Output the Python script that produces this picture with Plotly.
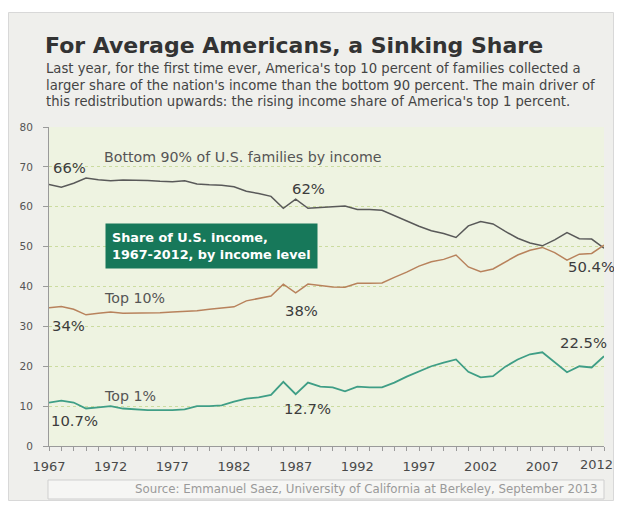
import plotly.graph_objects as go

years = list(range(1967, 2013))

bottom90 = [65.6, 64.9, 65.9, 67.2, 66.8, 66.5, 66.7, 66.7, 66.6, 66.4,
            66.3, 66.5, 65.7, 65.5, 65.4, 65.0, 63.9, 63.3, 62.6, 59.6,
            61.9, 59.6, 59.8, 60.1, 60.2, 59.3, 59.3, 59.1, 57.7, 56.4,
            55.1, 54.0, 53.3, 52.3, 55.2, 56.3, 55.7, 53.8, 52.1, 50.9,
            50.2, 51.7, 53.5, 52.0, 51.9, 49.6]

top10 = [34.7, 35.0, 34.3, 32.9, 33.3, 33.6, 33.3, 33.3, 33.3, 33.4,
         33.6, 33.7, 33.9, 34.3, 34.6, 34.9, 36.4, 37.0, 37.6, 40.6,
         38.4, 40.6, 40.3, 39.9, 39.8, 40.8, 40.8, 40.9, 42.3, 43.6,
         45.1, 46.2, 46.8, 47.9, 44.9, 43.7, 44.4, 46.2, 47.9, 49.1,
         49.8, 48.5, 46.6, 48.1, 48.3, 50.4]

top1 = [10.9, 11.4, 10.9, 9.4, 9.7, 10.0, 9.4, 9.2, 9.0, 9.0,
        9.0, 9.2, 10.0, 10.0, 10.2, 11.1, 11.9, 12.2, 12.8, 16.1,
        13.0, 15.9, 14.9, 14.7, 13.7, 14.9, 14.7, 14.7, 15.9, 17.4,
        18.8, 20.0, 20.9, 21.7, 18.6, 17.2, 17.5, 19.9, 21.7, 23.0,
        23.5, 21.1, 18.5, 20.0, 19.7, 22.5]

major_years = [1967, 1972, 1977, 1982, 1987, 1992, 1997, 2002, 2007, 2012]
# the last label sits at the figure edge, so it is drawn as an annotation below
last_year = major_years[-1]
x_ticktext = [str(y) if (y in major_years and y != last_year) else "" for y in years]
y_ticks = [0, 10, 20, 30, 40, 50, 60, 70, 80]

title = "For Average Americans, a Sinking Share"
subtitle = [
    "Last year, for the first time ever, America's top 10 percent of families collected a",
    "larger share of the nation's income than the bottom 90 percent. The main driver of",
    "this redistribution upwards: the rising income share of America's top 1 percent.",
]
source = "Source: Emmanuel Saez, University of California at Berkeley, September 2013"

FONT = "DejaVu Sans"
# the page body has an 8px margin; size the figure so the page does not overflow
OFF = 8
W, H = 622 - 2 * OFF, 509 - 2 * OFF
PLOT_L, PLOT_R, PLOT_T, PLOT_B = 49, 604, 127, 446   # page pixel coords of plot area
L = PLOT_L - OFF
T = PLOT_T - OFF
R = W - (PLOT_R - OFF)
B = H - (PLOT_B - OFF)
PW, PH = PLOT_R - PLOT_L, PLOT_B - PLOT_T


def px(xp):
    return (xp - PLOT_L) / PW


def py(yp):
    return (PLOT_B - yp) / PH


fig = go.Figure()
fig.add_trace(go.Scatter(x=years, y=bottom90, mode="lines",
                         line=dict(color="#595959", width=1.5), hoverinfo="skip"))
fig.add_trace(go.Scatter(x=years, y=top10, mode="lines",
                         line=dict(color="#b8825c", width=1.5), hoverinfo="skip"))
fig.add_trace(go.Scatter(x=years, y=top1, mode="lines",
                         line=dict(color="#3f9e86", width=1.8), hoverinfo="skip"))

shapes = [
    dict(type="rect", xref="paper", yref="paper", x0=px(8.5), x1=px(613.5), y0=py(500.5), y1=py(12.5),
         fillcolor="#efefec", line=dict(color="#d8d8d8", width=1), layer="below"),
    dict(type="rect", xref="paper", yref="paper", x0=0, x1=1, y0=0, y1=1,
         fillcolor="#eef3e1", line=dict(width=0), layer="below"),
    dict(type="rect", xref="paper", yref="paper", x0=px(48), x1=px(604), y0=py(499), y1=py(480),
         fillcolor="#f6f6f4", line=dict(color="#cfcfcf", width=1), layer="below"),
]

ann = []
ann.append(dict(text="<b>" + title + "</b>", xref="paper", yref="paper", x=px(43), y=py(45),
                xanchor="left", yanchor="middle", showarrow=False,
                font=dict(family=FONT, size=22, color="#333333")))
for i, line in enumerate(subtitle):
    ann.append(dict(text=line, xref="paper", yref="paper", x=px(44), y=py(68 + 17 * i),
                    xanchor="left", yanchor="middle", showarrow=False,
                    font=dict(family=FONT, size=13.2, color="#444444")))
ann.append(dict(text=source, xref="paper", yref="paper", x=px(599), y=py(489.5),
                xanchor="right", yanchor="middle", showarrow=False,
                font=dict(family=FONT, size=11.8, color="#9a9a9a")))
ann.append(dict(text=str(last_year), xref="paper", yref="paper", x=px(615), y=py(464),
                xanchor="right", yanchor="middle", showarrow=False,
                font=dict(family=FONT, size=13, color="#4a4a4a")))


def label(text, x, y, size=14.8, color="#3c3c3c", anchor="left"):
    ann.append(dict(text=text, x=x, y=y, xref="x", yref="y", xanchor=anchor, yanchor="middle",
                    showarrow=False, font=dict(family=FONT, size=size, color=color)))


label("Bottom 90% of U.S. families by income", 1971.3, 72.4, size=14.2, color="#555555")
label("66%", 1967.2, 69.9)
label("62%", 1986.5, 64.7)
label("Top 10%", 1971.3, 37.1, size=14.2, color="#555555")
label("34%", 1967.1, 30.1)
label("38%", 1986.0, 34.1)
label("50.4%", 2008.9, 45.1)
label("Top 1%", 1971.3, 12.6, size=14.2, color="#555555")
label("10.7%", 1967.0, 6.5)
label("12.7%", 1985.9, 9.3)
label("22.5%", 2008.3, 25.9)

ann.append(dict(text="<b>Share of U.S. income,<br>1967-2012, by income level</b>",
                x=1971.5, y=55.9, xref="x", yref="y", xanchor="left", yanchor="top",
                align="left", showarrow=False, bgcolor="#17785a", borderpad=6,
                font=dict(family=FONT, size=12.8, color="#ffffff")))

fig.update_layout(
    width=W, height=H,
    margin=dict(l=L, r=R, t=T, b=B, pad=0),
    paper_bgcolor="#ffffff",
    plot_bgcolor="rgba(0,0,0,0)",
    showlegend=False,
    shapes=shapes,
    annotations=ann,
    font=dict(family=FONT),
)
fig.update_xaxes(range=[1967, 2012], tickvals=years, ticktext=x_ticktext,
                 ticks="outside", ticklen=4, tickcolor="#9a9a9a", tickwidth=1,
                 showline=True, linecolor="#9a9a9a", linewidth=1, showgrid=False,
                 zeroline=False, ticklabelstandoff=4,
                 tickfont=dict(family=FONT, size=13, color="#4a4a4a"))
fig.update_yaxes(range=[0, 80], tickvals=y_ticks, ticks="outside", ticklen=5,
                 tickcolor="#9a9a9a", showline=True, linecolor="#9a9a9a", linewidth=1,
                 showgrid=True, gridcolor="#cbdc9f", griddash="dot", gridwidth=1,
                 zeroline=False, ticklabelstandoff=8,
                 tickfont=dict(family=FONT, size=10.5, color="#555555"))

fig.write_html("out.html")
